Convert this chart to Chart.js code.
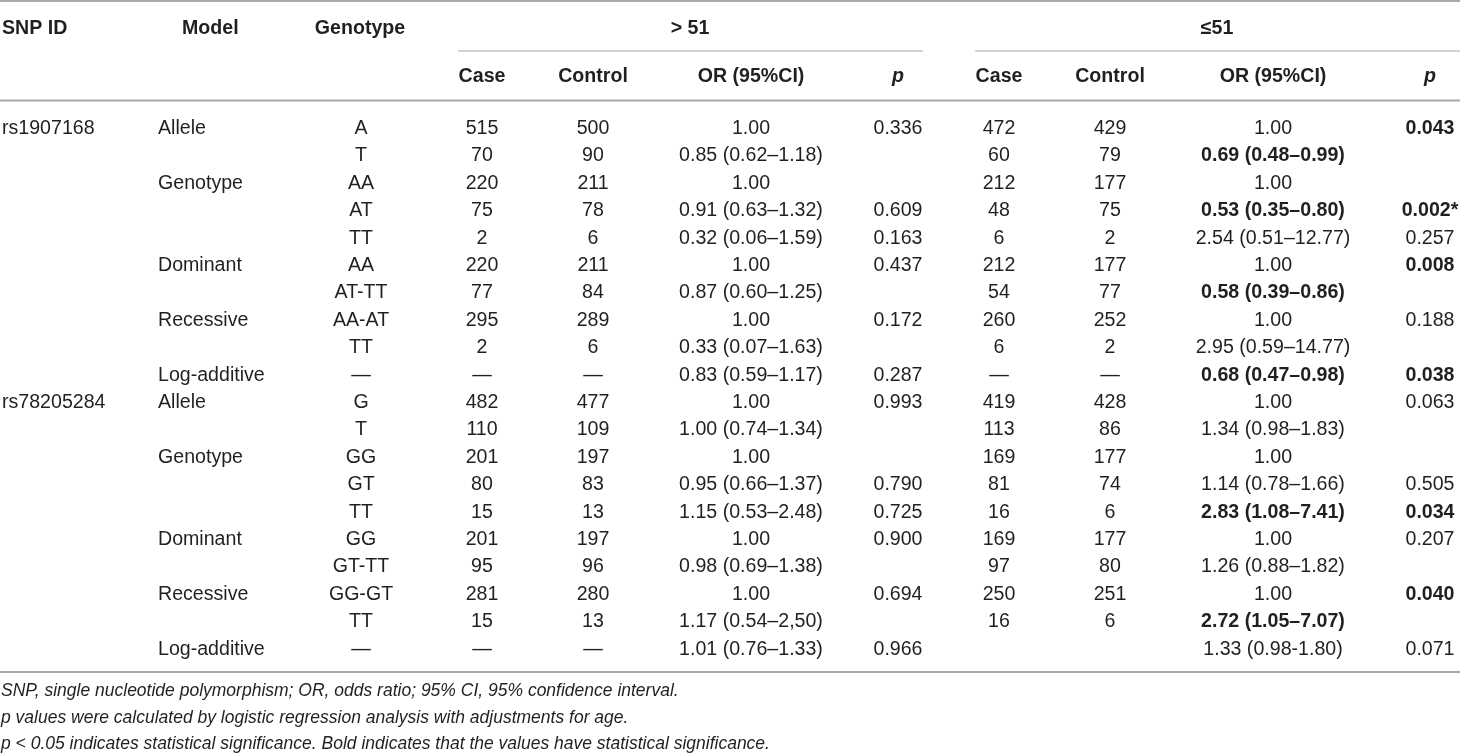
<!DOCTYPE html>
<html>
<head>
<meta charset="utf-8">
<title>SNP association by age group</title>
<script src="https://cdn.jsdelivr.net/npm/chart.js@4.4.1/dist/chart.umd.min.js"></script>
<style>
  html, body { margin: 0; padding: 0; background: #fff; }
  #wrap { width: 1460px; height: 755px; position: relative; }
</style>
</head>
<body>
<div id="wrap"><canvas id="snpTable"></canvas></div>
<script>
// table data, one array per column, one entry per body row
const snpIds = ['rs1907168', '', '', '', '', '', '', '', '', '',
                'rs78205284', '', '', '', '', '', '', '', '', ''];
const models = ['Allele', '', 'Genotype', '', '', 'Dominant', '', 'Recessive', '', 'Log-additive',
                'Allele', '', 'Genotype', '', '', 'Dominant', '', 'Recessive', '', 'Log-additive'];
const genotypes = ['A', 'T', 'AA', 'AT', 'TT', 'AA', 'AT-TT', 'AA-AT', 'TT', '—',
                   'G', 'T', 'GG', 'GT', 'TT', 'GG', 'GT-TT', 'GG-GT', 'TT', '—'];

const caseOver51 = ['515', '70', '220', '75', '2', '220', '77', '295', '2', '—',
                    '482', '110', '201', '80', '15', '201', '95', '281', '15', '—'];
const controlOver51 = ['500', '90', '211', '78', '6', '211', '84', '289', '6', '—',
                       '477', '109', '197', '83', '13', '197', '96', '280', '13', '—'];
const orOver51 = ['1.00', '0.85 (0.62–1.18)', '1.00', '0.91 (0.63–1.32)', '0.32 (0.06–1.59)',
                  '1.00', '0.87 (0.60–1.25)', '1.00', '0.33 (0.07–1.63)', '0.83 (0.59–1.17)',
                  '1.00', '1.00 (0.74–1.34)', '1.00', '0.95 (0.66–1.37)', '1.15 (0.53–2.48)',
                  '1.00', '0.98 (0.69–1.38)', '1.00', '1.17 (0.54–2,50)', '1.01 (0.76–1.33)'];
const pOver51 = ['0.336', '', '', '0.609', '0.163', '0.437', '', '0.172', '', '0.287',
                 '0.993', '', '', '0.790', '0.725', '0.900', '', '0.694', '', '0.966'];

const caseUnder51 = ['472', '60', '212', '48', '6', '212', '54', '260', '6', '—',
                     '419', '113', '169', '81', '16', '169', '97', '250', '16', ''];
const controlUnder51 = ['429', '79', '177', '75', '2', '177', '77', '252', '2', '—',
                        '428', '86', '177', '74', '6', '177', '80', '251', '6', ''];
const orUnder51 = ['1.00', '0.69 (0.48–0.99)', '1.00', '0.53 (0.35–0.80)', '2.54 (0.51–12.77)',
                   '1.00', '0.58 (0.39–0.86)', '1.00', '2.95 (0.59–14.77)', '0.68 (0.47–0.98)',
                   '1.00', '1.34 (0.98–1.83)', '1.00', '1.14 (0.78–1.66)', '2.83 (1.08–7.41)',
                   '1.00', '1.26 (0.88–1.82)', '1.00', '2.72 (1.05–7.07)', '1.33 (0.98-1.80)'];
const pUnder51 = ['0.043', '', '', '0.002*', '0.257', '0.008', '', '0.188', '', '0.038',
                  '0.063', '', '', '0.505', '0.034', '0.207', '', '0.040', '', '0.071'];

// rows that are significant (drawn bold)
const sigOrUnder51 = [1, 3, 6, 9, 14, 18];
const sigPUnder51 = [0, 3, 5, 9, 14, 17];

const groupLabels = ['> 51', '≤51'];
const subHeaders = ['Case', 'Control', 'OR (95%CI)', 'p'];
const footnotes = [
    'SNP, single nucleotide polymorphism; OR, odds ratio; 95% CI, 95% confidence interval.',
    'p values were calculated by logistic regression analysis with adjustments for age.',
    'p < 0.05 indicates statistical significance. Bold indicates that the values have statistical significance.'
];

// layout
const W = 1460, H = 755;
const ROW_H = 27.4, FIRST_ROW = 127;
const rowAt = px => (px - FIRST_ROW) / ROW_H;
const FONT = '"Liberation Sans", Arial, Helvetica, sans-serif';
const SIZE = 19.6;
const INK = '#231f20';
const RULE = '#a9a9a9';

const columns = [
    { values: snpIds, x: 2, align: 'left' },
    { values: models, x: 158, align: 'left' },
    { values: genotypes, x: 361 },
    { values: caseOver51, x: 482 },
    { values: controlOver51, x: 593 },
    { values: orOver51, x: 751 },
    { values: pOver51, x: 898 },
    { values: caseUnder51, x: 999 },
    { values: controlUnder51, x: 1110 },
    { values: orUnder51, x: 1273, bold: sigOrUnder51 },
    { values: pUnder51, x: 1430, bold: sigPUnder51 },
];

const headers = [
    { text: 'SNP ID', x: 2, y: rowAt(27), align: 'left' },
    { text: 'Model', x: 182, y: rowAt(27), align: 'left' },
    { text: 'Genotype', x: 360, y: rowAt(27) },
    { text: groupLabels[0], x: 690, y: rowAt(27) },
    { text: groupLabels[1], x: 1217, y: rowAt(27) },
];
[[482, 593, 751, 898], [999, 1110, 1273, 1430]].forEach(xs => {
    subHeaders.forEach((t, k) => headers.push({ text: t, x: xs[k], y: rowAt(75), italic: t === 'p' }));
});

const rules = [
    { y: rowAt(1), x0: 0, x1: W, w: 2 },
    { y: rowAt(51), x0: 458, x1: 923, w: 1.2 },
    { y: rowAt(51), x0: 975, x1: W, w: 1.2 },
    { y: rowAt(100.5), x0: 0, x1: W, w: 2 },
    { y: rowAt(672), x0: 0, x1: W, w: 2 },
];
const noteRows = [rowAt(690), rowAt(717), rowAt(743)];

function drawText(ctx, text, x, y, size, weight, italic, align) {
    ctx.font = (italic ? 'italic ' : '') + weight + ' ' + size + 'px ' + FONT;
    ctx.textAlign = align || 'center';
    ctx.textBaseline = 'alphabetic';
    ctx.fillStyle = INK;
    ctx.fillText(text, x, y + size * 0.36);
}

const tablePlugin = {
    id: 'tableCells',
    afterDatasetsDraw(chart) {
        const ctx = chart.ctx;
        const xs = chart.scales.x, ys = chart.scales.y;
        ctx.save();

        rules.forEach(r => {
            const y = ys.getPixelForValue(r.y);
            ctx.strokeStyle = RULE;
            ctx.lineWidth = r.w;
            ctx.beginPath();
            ctx.moveTo(xs.getPixelForValue(r.x0), y);
            ctx.lineTo(xs.getPixelForValue(r.x1), y);
            ctx.stroke();
        });

        headers.forEach(h => {
            drawText(ctx, h.text, xs.getPixelForValue(h.x), ys.getPixelForValue(h.y),
                SIZE, 'bold', h.italic, h.align);
        });

        chart.data.datasets.forEach((ds, i) => {
            const meta = chart.getDatasetMeta(i);
            meta.data.forEach((pt, j) => {
                const text = ds.cells[j];
                if (!text) return;
                const bold = ds.boldRows && ds.boldRows.includes(j);
                drawText(ctx, text, pt.x, pt.y, SIZE, bold ? 'bold' : 'normal', false, ds.align);
            });
        });

        footnotes.forEach((t, k) => {
            drawText(ctx, t, xs.getPixelForValue(1), ys.getPixelForValue(noteRows[k]),
                17.5, 'normal', true, 'left');
        });

        ctx.restore();
    }
};

const ctx1 = document.getElementById('snpTable');

new Chart(ctx1, {
    type: 'scatter',
    data: {
        datasets: columns.map(col => ({
            data: col.values.map((v, i) => ({ x: col.x, y: i })),
            cells: col.values,
            boldRows: col.bold,
            align: col.align,
            pointRadius: 0,
            pointHoverRadius: 0,
            showLine: false
        }))
    },
    options: {
        responsive: true,
        maintainAspectRatio: false,
        animation: false,
        events: [],
        layout: { padding: 0 },
        plugins: {
            legend: { display: false },
            tooltip: { enabled: false }
        },
        scales: {
            x: { type: 'linear', display: false, min: 0, max: W },
            y: { type: 'linear', display: false, reverse: true, min: rowAt(0), max: rowAt(H) }
        }
    },
    plugins: [tablePlugin]
});
</script>
</body>
</html>
